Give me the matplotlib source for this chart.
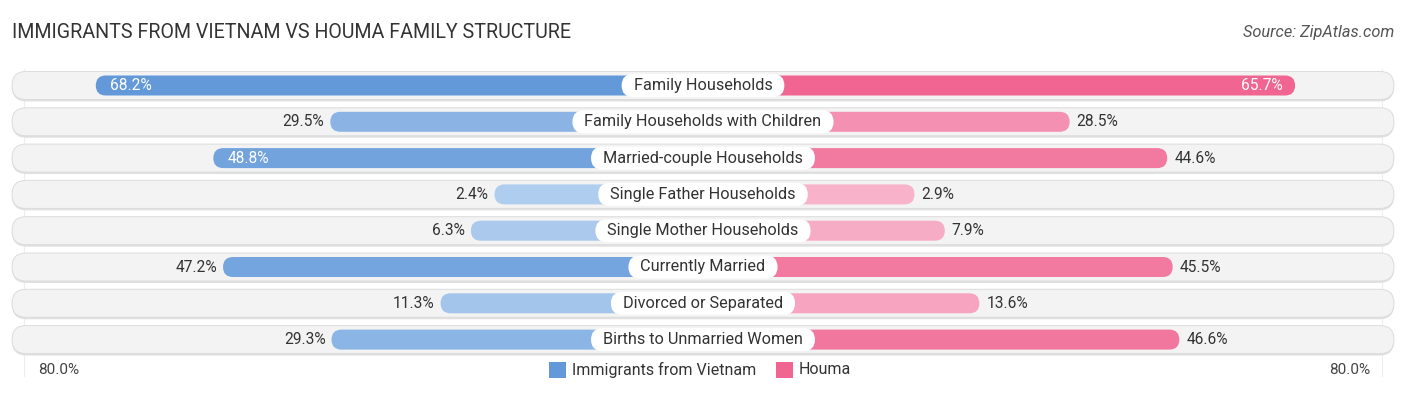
import numpy as np
import matplotlib.pyplot as plt
from matplotlib.patches import FancyBboxPatch
from matplotlib.colors import to_rgb

categories = ["Family Households", "Family Households with Children",
              "Married-couple Households", "Single Father Households",
              "Single Mother Households", "Currently Married",
              "Divorced or Separated", "Births to Unmarried Women"]
vietnam = [68.2, 29.5, 48.8, 2.4, 6.3, 47.2, 11.3, 29.3]
houma = [65.7, 28.5, 44.6, 2.9, 7.9, 45.5, 13.6, 46.6]
series_names = ["Immigrants from Vietnam", "Houma"]
axis_max = 80.0

plt.rcParams['font.family'] = ['Roboto', 'DejaVu Sans']

W, H = 1406, 395
PX = 6.06          # pixels per percent
ROW = 36.3         # pixels per row
OFF = 32.0         # bar offset under the centre label (percent units)
CX = 703
Y0 = 85.5

fig = plt.figure(figsize=(W / 100, H / 100), dpi=100)
ax = fig.add_axes([0, 0, 1, 1])
ax.set_xlim(-CX / PX, (W - CX) / PX)
ax.set_ylim((H - Y0) / ROW, -Y0 / ROW)
ax.axis('off')
renderer = fig.canvas.get_renderer()

asp = PX / ROW


def mix(c1, c2, t):
    a, b = np.array(to_rgb(c1)), np.array(to_rgb(c2))
    return tuple(a + (b - a) * t)


def pill(x0, x1, yc, h_px, fc, ec='none', lw=0, z=1):
    h = h_px / ROW
    r = h_px / 2 / PX
    p = FancyBboxPatch((x0, yc - h / 2), x1 - x0, h,
                       boxstyle=f"round,pad=0,rounding_size={r}",
                       mutation_aspect=asp, fc=fc, ec=ec, lw=lw, zorder=z)
    ax.add_patch(p)


xl = (12 - CX) / PX
xr = (1394 - CX) / PX
# faint gridlines at 80%
for gx in [-(OFF + axis_max), OFF + axis_max]:
    ax.plot([gx, gx], [-0.45, 8.0], color='#ededed', lw=0.8, zorder=0)

for i, cat in enumerate(categories):
    # row background
    pill(xl, xr, i + 0.04, 29, '#e0e0e0', z=1)
    pill(xl, xr, i, 28, '#f3f3f3', ec='#dcdcdc', lw=0.7, z=2)

    v, h = vietnam[i], houma[i]
    cb = mix('#b2cfef', '#6399d9', min(v / 60, 1))
    cp = mix('#f8b7cd', '#f06591', min(h / 60, 1))
    pill(-(OFF + v), 0, i, 20, cb, z=3)
    pill(0, OFF + h, i, 20, cp, z=3)

    # centre label
    t = ax.text(0, i, cat, ha='center', va='center', fontsize=11.7,
                color='#333333', zorder=5)
    tw = t.get_window_extent(renderer).width + 24
    pill(-tw / 2 / PX, tw / 2 / PX, i, 23, 'white', z=4)

    if v > 48:
        ax.text(-(OFF + v) + 14 / PX, i, f"{v:.1f}%", ha='left', va='center',
                fontsize=11.2, color='white', zorder=5)
    else:
        ax.text(-(OFF + v) - 6 / PX, i, f"{v:.1f}%", ha='right', va='center',
                fontsize=11.2, color='#333333', zorder=5)
    if h > 48:
        ax.text(OFF + h - 12 / PX, i, f"{h:.1f}%", ha='right', va='center',
                fontsize=11.2, color='white', zorder=5)
    else:
        ax.text(OFF + h + 7 / PX, i, f"{h:.1f}%", ha='left', va='center',
                fontsize=11.2, color='#333333', zorder=5)

yb = (370 - Y0) / ROW
ax.text((38 - CX) / PX, yb, f"{axis_max:.1f}%", ha='left', va='center',
        fontsize=11, color='#444444')
ax.text((1370 - CX) / PX, yb, f"{axis_max:.1f}%", ha='right', va='center',
        fontsize=11, color='#444444')

# legend
for x0, name, col in [(549, series_names[0], '#6399d9'), (776, series_names[1], '#f06591')]:
    ax.add_patch(plt.Rectangle(((x0 - CX) / PX, yb - 8 / ROW), 17 / PX, 16 / ROW,
                               fc=col, ec='none', zorder=3))
    ax.text((x0 + 23 - CX) / PX, yb, name, ha='left', va='center',
            fontsize=11.5, color='#333333')

fig.text(12 / W, 1 - 33 / H, "IMMIGRANTS FROM VIETNAM VS HOUMA FAMILY STRUCTURE",
         ha='left', va='center', fontsize=14.1, color='#333333')
fig.text(1394 / W, 1 - 33 / H, "Source: ZipAtlas.com", ha='right', va='center',
         fontsize=11.8, color='#555555', style='italic')

fig.savefig("out.png", dpi=100)
